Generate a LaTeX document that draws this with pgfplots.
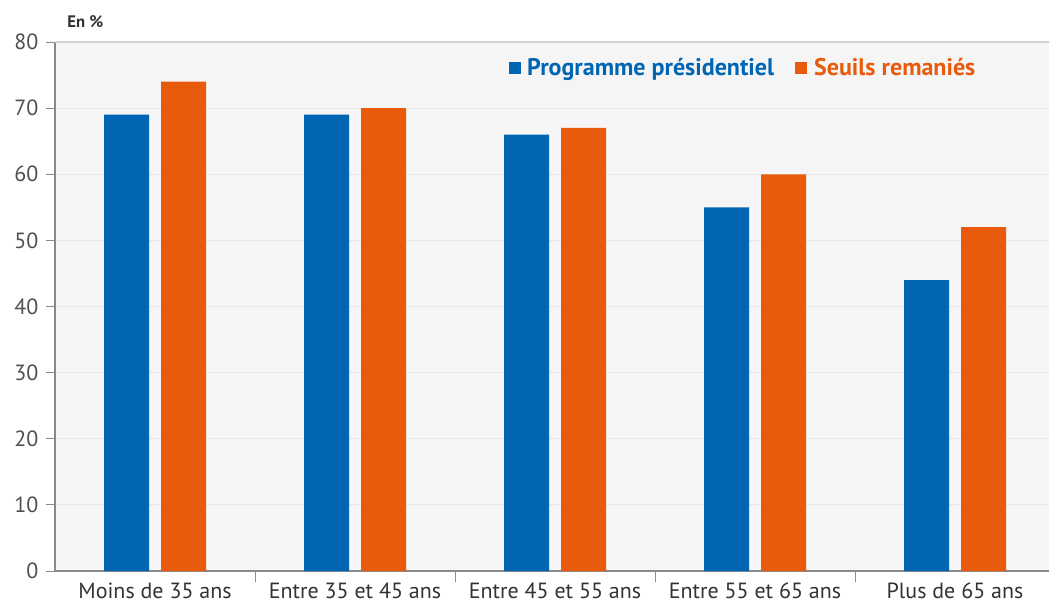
\documentclass[border=0pt]{standalone}
\usepackage{pgfplots}
\pgfplotsset{compat=1.18}
\usepackage{fontspec}
\setmainfont{PT Sans}
\definecolor{cblue}{HTML}{0066B3}
\definecolor{corange}{HTML}{E95B0C}
\definecolor{bg}{HTML}{F5F5F5}
\definecolor{gridc}{HTML}{E6E6E6}
\definecolor{axc}{HTML}{8A8A8A}
\definecolor{ytc}{HTML}{505050}
\definecolor{xtc}{HTML}{333333}
\begin{document}
\begin{tikzpicture}
\begin{axis}[
  at={(41.25pt,24pt)}, anchor=south west,
  scale only axis, width=745.5pt, height=396.75pt,
  xmin=-0.5, xmax=4.47, ymin=0, ymax=80,
  ybar=9pt, bar width=33.75pt,
  axis background/.style={fill=bg},
  axis x line*=bottom, axis y line*=left,
  axis line style={axc, line width=0.9pt},
  xtick={0,1,2,3,4},
  xticklabels={Moins de 35 ans, Entre 35 et 45 ans, Entre 45 et 55 ans, Entre 55 et 65 ans, Plus de 65 ans},
  minor xtick={0.5,1.5,2.5,3.5},
  major x tick style={draw=none},
  minor x tick style={axc, line width=0.6pt},
  minor tick length=8pt,
  tick align=outside,
  ytick={0,10,...,80},
  major y tick style={axc, line width=0.6pt},
  major tick length=7pt,
  ymajorgrids, grid style={gridc, line width=0.8pt},
  xticklabel style={font=\fontsize{16.5}{19}\selectfont, text=xtc, yshift=1.5pt},
  yticklabel style={font=\fontsize{16.5}{19}\selectfont, text=ytc, xshift=-2pt},
  /pgf/number format/assume math mode=true,
  legend style={at={(0.452,0.951)}, anchor=west, draw=none, fill=none,
    legend columns=2, font=\fontsize{18}{21}\bfseries\selectfont,
    /tikz/every even column/.append style={column sep=14pt}},
  legend cell align=left,
  clip=false,
]
\addplot[fill=cblue, draw=none, legend image code/.code={\fill[cblue] (0pt,-4.5pt) rectangle (9pt,4.5pt); \path (12pt,0pt);}] coordinates {(0,69) (1,69) (2,66) (3,55) (4,44)};
\addlegendentry{\textcolor{cblue}{Programme présidentiel}}
\addplot[fill=corange, draw=none, legend image code/.code={\fill[corange] (0pt,-4.5pt) rectangle (9pt,4.5pt); \path (12pt,0pt);}] coordinates {(0,74) (1,70) (2,67) (3,60) (4,52)};
\addlegendentry{\textcolor{corange}{Seuils remaniés}}
\draw[gridc!80!gray, line width=0.8pt] (rel axis cs:0,1) -- (rel axis cs:1,1);
\end{axis}
\node[anchor=west, font=\fontsize{12.5}{15}\bfseries\selectfont, text=xtc] at (47pt,436pt) {En \%};
\pgfresetboundingbox
\path[use as bounding box] (0pt,0pt) rectangle (786.75pt,452.25pt);
\end{tikzpicture}
\end{document}
